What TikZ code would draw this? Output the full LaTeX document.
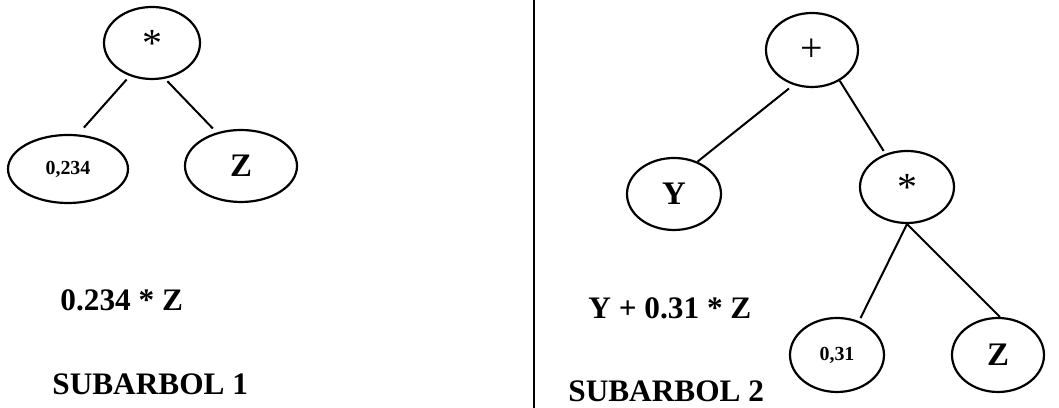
\documentclass[tikz,border=0pt]{standalone}
\usepackage{fontspec}
\setmainfont{Liberation Serif}
\usetikzlibrary{shapes.geometric}

\tikzset{
  nodo/.style={draw, ellipse, line width=1.1bp, inner sep=0pt, minimum width=47bp, minimum height=36bp},
  oper/.style={font=\fontsize{20}{22}\selectfont},
  hoja/.style={font=\fontsize{16.5}{18}\selectfont\bfseries},
  cte/.style={font=\fontsize{10}{12}\selectfont\bfseries},
  texto/.style={font=\fontsize{15.7}{19}\selectfont\bfseries, inner sep=0pt, anchor=base west},
  arista/.style={line width=1bp},
}

\begin{document}
\begin{tikzpicture}[x=0.5bp,y=-0.5bp]
  \useasboundingbox (0,0) rectangle (1059,408);
  % Subarbol 1: 0.234 * Z
  \node[nodo,oper,minimum width=48bp] (mult1) at (152,43) {*};
  \node[nodo,cte,minimum width=60bp,minimum height=34bp] (num1) at (68,169) {0,234};
  \node[nodo,hoja,minimum width=56bp] (z1) at (241,166) {Z};
  \draw[arista,shorten <=2.3bp,shorten >=4.5bp] (mult1.236) -- (num1.74);
  \draw[arista,shorten <=1.7bp,shorten >=2.7bp] (mult1.290) -- (z1.126);
  \node[texto] (expr1) at (60,311) {0.234 * Z};
  \node[texto] (tit1) at (52,395) {SUBARBOL 1};
  % Separador
  \draw[line width=1bp] (534,0) -- (534,408);
  % Subarbol 2: Y + 0.31 * Z
  \node[nodo,oper,minimum width=46bp,minimum height=37bp] (suma) at (812,50) {+};
  \node[nodo,hoja] (y2) at (674,194) {Y};
  \node[nodo,oper] (mult2) at (907,187) {*};
  \node[nodo,cte,minimum height=37bp] (num2) at (837,355) {0,31};
  \node[nodo,hoja,minimum width=46bp,minimum height=37bp] (z2) at (998,355) {Z};
  \draw[arista,shorten <=2.8bp] (suma.242) -- (y2.54);
  \draw[arista,shorten >=1.7bp] (suma.312) -- (mult2.123);
  \draw[arista,shorten >=1.7bp] (mult2.270) -- (num2.57);
  \draw[arista] (mult2.270) -- (z2.87);
  \node[texto] (expr2) at (588,319) {Y + 0.31 * Z};
  \node[texto] (tit2) at (568,402) {SUBARBOL 2};
\end{tikzpicture}
\end{document}
